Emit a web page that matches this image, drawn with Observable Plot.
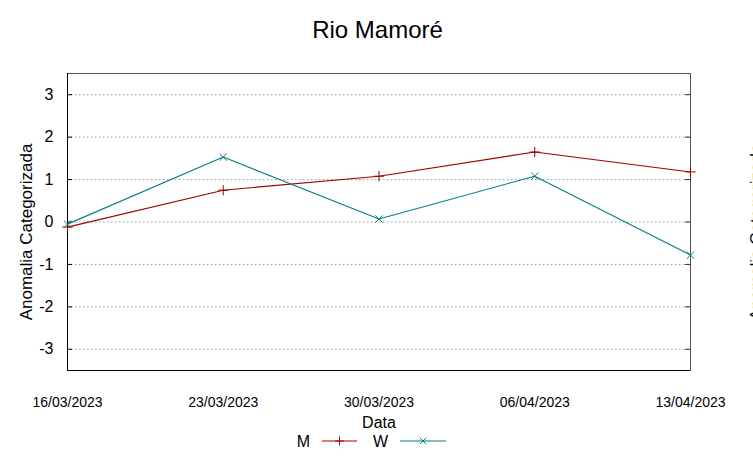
<!DOCTYPE html>
<html>
<head>
<meta charset="utf-8">
<script src="https://cdn.jsdelivr.net/npm/d3@7"></script>
<script src="https://cdn.jsdelivr.net/npm/@observablehq/plot@0.6"></script>
<style>
  body { margin: 0; background: #fff; font-family: "Liberation Sans", Arial, sans-serif; }
  #wrap { position: relative; width: 753px; height: 459px; overflow: hidden; }
  #title { height: 55px; text-align: center; font-size: 24px; line-height: 24px; padding-top: 0; box-sizing: border-box; }
  #title span { position: relative; top: 18px; left: 1px; }
  #legend { height: 29px; position: relative; font-size: 16px; }
  svg { display: block; }
</style>
</head>
<body>
<div id="wrap">
  <div id="title"><span>Rio Mamoré</span></div>
  <div id="chart"></div>
  <div id="legend"></div>
</div>
<script>
const dates = ["2023-03-16", "2023-03-23", "2023-03-30", "2023-04-06", "2023-04-13"];
const seriesM = [-0.12, 0.75, 1.08, 1.65, 1.18];
const seriesW = [-0.05, 1.53, 0.07, 1.08, -0.78];
const yTicks = [-3, -2, -1, 0, 1, 2, 3];
const seriesNames = ["M", "W"];
const seriesColors = ["#a00000", "#008080"];
const seriesSymbols = ["plus", "times"];

const parse = d3.utcParse("%Y-%m-%d");
const xDates = dates.map(parse);
const data = [
  ...xDates.map((d, i) => ({date: d, value: seriesM[i], series: "M"})),
  ...xDates.map((d, i) => ({date: d, value: seriesW[i], series: "W"}))
];
const fmt = d3.utcFormat("%d/%m/%Y");

const chart = Plot.plot({
  width: 753,
  height: 375,
  marginTop: 18,
  marginBottom: 60,
  marginLeft: 67,
  marginRight: 63,
  style: {fontFamily: "Liberation Sans, Arial, sans-serif", background: "#fff", overflow: "hidden"},
  x: {type: "utc", domain: [xDates[0], xDates[xDates.length - 1]]},
  y: {domain: [-3.5, 3.5]},
  color: {domain: seriesNames, range: seriesColors},
  symbol: {domain: seriesNames, range: seriesSymbols},
  marks: [
    Plot.gridY(yTicks, {stroke: "#999", strokeOpacity: 1, strokeDasharray: "1.5,2.5"}),
    Plot.frame({stroke: "#555"}),
    Plot.ruleX([xDates[0]], {stroke: "#000"}),
    Plot.ruleY([-3.5], {stroke: "#000"}),
    Plot.axisY(yTicks, {anchor: "left", tickSize: -5, tickFormat: () => "", label: null, stroke: "#000"}),
    Plot.axisY(yTicks, {anchor: "right", tickSize: -6, tickFormat: () => "", label: null, stroke: "#333"}),
    Plot.axisY(yTicks, {anchor: "left", tickSize: 0, tickPadding: 14, tickFormat: d => String(d), fontSize: 16, fill: "#000", label: null}),
    Plot.axisX(xDates, {anchor: "bottom", tickSize: 0, tickPadding: 27, tickFormat: fmt, fontSize: 14, fill: "#000", label: null}),
    Plot.text(["Anomalia Categorizada"], {frameAnchor: "left", textAnchor: "middle", dx: -41, dy: 10, rotate: -90, fontSize: 17, fill: "#000"}),
    Plot.text(["Anomalia Categorizada"], {frameAnchor: "right", textAnchor: "middle", dx: 66, dy: 10, rotate: -90, fontSize: 17, fill: "#000"}),
    Plot.text(["Data"], {frameAnchor: "bottom", dy: 57, fontSize: 16, fill: "#000"}),
    Plot.line(data, {x: "date", y: "value", z: "series", stroke: "series", strokeWidth: 1.1}),
    Plot.dot(data, {x: "date", y: "value", symbol: "series", stroke: "series", r: 3.4, strokeWidth: 1})
  ]
});
document.getElementById("chart").appendChild(chart);

// Legend
const legend = d3.select("#legend");
const lsvg = legend.append("svg").attr("width", 753).attr("height", 29);
const items = [
  {name: seriesNames[0], color: seriesColors[0], sym: "plus", textX: 310, x1: 322, x2: 357},
  {name: seriesNames[1], color: seriesColors[1], sym: "times", textX: 388, x1: 400, x2: 446}
];
items.forEach(it => {
  lsvg.append("text").attr("x", it.textX).attr("y", 17).attr("text-anchor", "end")
    .attr("font-size", 16).attr("font-family", "Liberation Sans, Arial, sans-serif").text(it.name);
  lsvg.append("line").attr("x1", it.x1).attr("x2", it.x2).attr("y1", 11).attr("y2", 11)
    .attr("stroke", it.color).attr("stroke-width", 1.1);
  const cx = (it.x1 + it.x2) / 2;
  const s = d3.symbol(it.sym === "plus" ? d3.symbolPlus : d3.symbolTimes, 28);
  lsvg.append("path").attr("d", s()).attr("transform", `translate(${cx},11)`)
    .attr("fill", "none").attr("stroke", it.color).attr("stroke-width", 1);
});
</script>
</body>
</html>
